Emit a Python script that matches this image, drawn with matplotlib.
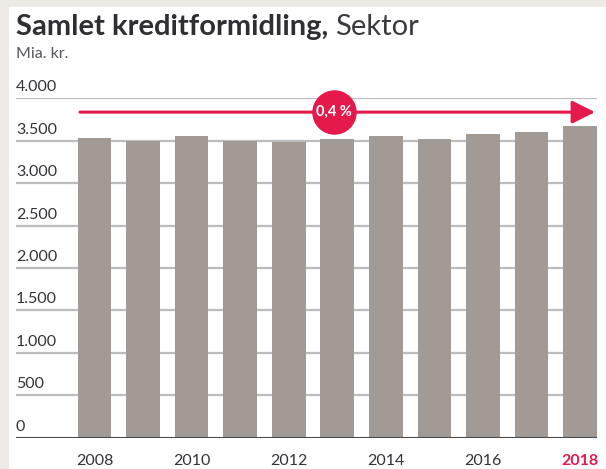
import matplotlib.pyplot as plt
from matplotlib.patches import Rectangle

years = [2008, 2009, 2010, 2011, 2012, 2013, 2014, 2015, 2016, 2017, 2018]
values = [3538, 3502, 3558, 3491, 3484, 3519, 3554, 3519, 3575, 3608, 3679]
yticks = [0, 500, 1000, 1500, 2000, 2500, 3000, 3500, 4000]
ytick_labels = ['0', '500', '1.000', '1.500', '2.000', '2.500', '3.000', '3.500', '4.000']
xtick_labels = ['2008', '2010', '2012', '2014', '2016', '2018']
growth_label = '0,4 %'

red = '#e5194c'
dark = '#333338'
barcol = '#a29a94'

W, H = 606, 469
fig = plt.figure(figsize=(W / 100, H / 100), dpi=100, facecolor='#eeeae4')
# white panel
fig.patches.append(Rectangle((9 / W, 0), 1, 1 - 7 / H, transform=fig.transFigure,
                             facecolor='white', edgecolor='none', zorder=-5))

# axes placed in pixels: left 16, right 597, bottom 437.7, top 98.3
ax = fig.add_axes([16 / W, (H - 437.7) / H, (597 - 16) / W, (437.7 - 98.3) / H])
ax.patch.set_visible(False)
for s in ax.spines.values():
    s.set_visible(False)
ax.set_xticks([])
ax.set_yticks([])

pitch = 48.56
x0 = -78.5 / pitch
ax.set_xlim(x0, x0 + 581 / pitch)
ax.set_ylim(0, 4000)

xs = list(range(len(years)))
ax.bar(xs, values, width=0.694, color=barcol, zorder=2)

for v, lab in zip(yticks, ytick_labels):
    if v == 0:
        ax.axhline(0, color='#4a4a4a', lw=1.5, zorder=3)
    else:
        ax.axhline(v, color='#bdbdbd', lw=1.6, zorder=1)
    ax.annotate(lab, xy=(0, v), xycoords=('axes fraction', 'data'), xytext=(0, 5),
                textcoords='offset points', va='baseline', ha='left',
                fontsize=11.5, color=dark, family='Lato')

for y, v in zip(years, xs):
    lab = str(y)
    if lab in xtick_labels:
        hl = lab == '2018'
        ax.annotate(lab, xy=(v, 0), xytext=(0, -16.5), textcoords='offset points',
                    ha='center', va='center', fontsize=11.5, family='Lato',
                    color=red if hl else dark, fontweight='bold' if hl else 'normal',
                    annotation_clip=False)

# growth arrow
ya = 3837
xa0 = x0 + 64 / pitch
xa1 = x0 + 579 / pitch
ax.annotate('', xy=(xa1, ya), xytext=(xa0, ya),
            arrowprops=dict(arrowstyle='-|>,head_length=1.0,head_width=0.5', color=red,
                            lw=2.2, mutation_scale=14, shrinkA=0, shrinkB=0),
            annotation_clip=False, zorder=4)
xc = (xa0 + xa1) / 2 - 4 / pitch
ax.plot([xc], [ya], 'o', ms=31, color=red, clip_on=False, zorder=5)
ax.text(xc, ya, growth_label, ha='center', va='center', color='white',
        fontsize=10.5, fontweight='bold', family='Lato', zorder=6)

# title
t1 = fig.text(16 / W, 1 - 35 / H, 'Samlet kreditformidling,', fontsize=21,
              fontweight='bold', color='#2e2e33', family='Lato', va='baseline')
r = fig.canvas.get_renderer()
bb = t1.get_window_extent(r)
fig.text(bb.x1 / W + 7 / W, 1 - 35 / H, 'Sektor', fontsize=21, color='#3a3a3f',
         family='Lato', va='baseline')
fig.text(16 / W, 1 - 58 / H, 'Mia. kr.', fontsize=11.5, color='#55555c',
         family='Lato', va='baseline')

fig.savefig('out.png', dpi=100, facecolor=fig.get_facecolor())
